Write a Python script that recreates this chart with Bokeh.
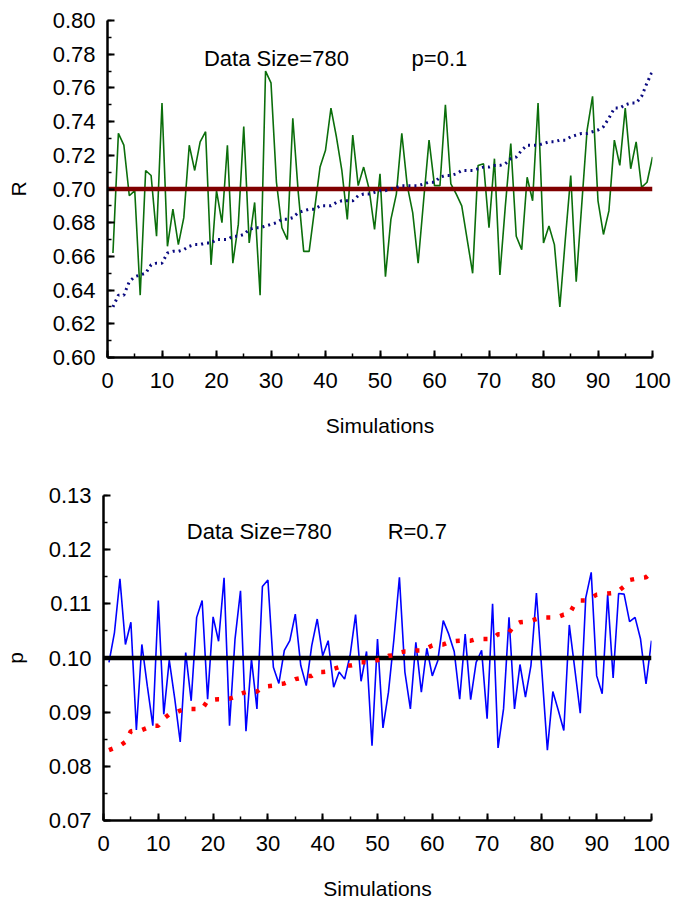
from bokeh.plotting import figure
from bokeh.layouts import column, row
from bokeh.models import Range1d, SingleIntervalTicker, NumeralTickFormatter
from bokeh.core.properties import value
from bokeh.embed import file_html
from bokeh.resources import INLINE

# ---- simulation results -------------------------------------------------
simulations = list(range(1, 101))

data_size = 780
r_true = 0.7
p_true = 0.1

# estimated R in each of the 100 simulations (p fixed at 0.1)
r_estimates = [
    0.662, 0.733, 0.726, 0.696, 0.699, 0.637, 0.711, 0.708, 0.672, 0.751,
    0.666, 0.688, 0.667, 0.683, 0.726, 0.711, 0.728, 0.734, 0.655, 0.699,
    0.680, 0.726, 0.656, 0.679, 0.737, 0.668, 0.692, 0.637, 0.770, 0.763,
    0.704, 0.677, 0.670, 0.742, 0.698, 0.663, 0.663, 0.688, 0.713, 0.723,
    0.748, 0.731, 0.711, 0.682, 0.732, 0.702, 0.713, 0.700, 0.676, 0.709,
    0.648, 0.682, 0.697, 0.733, 0.702, 0.686, 0.656, 0.693, 0.729, 0.702,
    0.702, 0.750, 0.703, 0.697, 0.690, 0.670, 0.650, 0.714, 0.715, 0.677,
    0.718, 0.649, 0.690, 0.727, 0.672, 0.664, 0.707, 0.693, 0.751, 0.668,
    0.678, 0.667, 0.630, 0.670, 0.708, 0.645, 0.690, 0.735, 0.755, 0.693,
    0.673, 0.687, 0.729, 0.714, 0.748, 0.712, 0.728, 0.701, 0.704, 0.719,
]

# estimated p in each of the 100 simulations (R fixed at 0.7)
p_estimates = [
    0.0992, 0.1047, 0.1146, 0.1025, 0.1066, 0.0867, 0.1025, 0.0948, 0.0875, 0.1106,
    0.0896, 0.0996, 0.0925, 0.0845, 0.1010, 0.0921, 0.1075, 0.1106, 0.0924, 0.1076,
    0.1031, 0.1148, 0.0875, 0.1035, 0.1124, 0.0865, 0.0998, 0.0906, 0.1132, 0.1144,
    0.0983, 0.0953, 0.1014, 0.1032, 0.1081, 0.0986, 0.0949, 0.1023, 0.1072, 0.1004,
    0.1032, 0.0946, 0.0974, 0.0961, 0.1005, 0.1080, 0.0957, 0.1012, 0.0838, 0.1035,
    0.0871, 0.0937, 0.1035, 0.1149, 0.0974, 0.0906, 0.1029, 0.0937, 0.1018, 0.0967,
    0.0995, 0.1069, 0.1044, 0.1012, 0.0924, 0.1044, 0.0923, 0.0992, 0.1014, 0.0888,
    0.1100, 0.0834, 0.0906, 0.1075, 0.0906, 0.0988, 0.0928, 0.0986, 0.1120, 0.0975,
    0.0830, 0.0938, 0.0903, 0.0866, 0.1061, 0.0980, 0.0898, 0.1111, 0.1158, 0.0967,
    0.0934, 0.1117, 0.0963, 0.1119, 0.1118, 0.1067, 0.1075, 0.1035, 0.0952, 0.1032,
]

# the same estimates in ascending order
r_sorted = sorted(r_estimates)
p_sorted = sorted(p_estimates)

FONT = "Liberation Sans"


def style_axes(p, ylabel, y_interval, y_label_standoff):
    p.xaxis.ticker = SingleIntervalTicker(interval=10, num_minor_ticks=2)
    p.yaxis.ticker = SingleIntervalTicker(interval=y_interval, num_minor_ticks=2)
    p.yaxis.formatter = NumeralTickFormatter(format="0.00")
    p.xaxis.axis_label = "Simulations"
    p.yaxis.axis_label = ylabel
    for ax in (p.xaxis[0], p.yaxis[0]):
        ax.axis_line_width = 2.5
        ax.axis_line_color = "black"
        ax.major_tick_in = 7
        ax.major_tick_out = 0
        ax.minor_tick_in = 4
        ax.minor_tick_out = 0
        ax.major_tick_line_width = 2
        ax.minor_tick_line_width = 1.5
        ax.major_tick_line_color = "black"
        ax.minor_tick_line_color = "black"
        ax.major_label_text_font = FONT
        ax.major_label_text_font_size = "22px"
        ax.major_label_text_color = "black"
        ax.axis_label_text_font = FONT
        ax.axis_label_text_font_size = "21px"
        ax.axis_label_text_font_style = "normal"
        ax.axis_label_text_color = "black"
    p.xaxis.major_label_standoff = 15
    p.xaxis.axis_label_standoff = 23
    p.yaxis.major_label_standoff = 12
    p.yaxis.axis_label_standoff = y_label_standoff
    p.xgrid.visible = False
    p.ygrid.visible = False
    p.outline_line_color = None


# ---- top panel: R estimates --------------------------------------------
p1 = figure(width=673, height=460, x_range=Range1d(0, 100), y_range=Range1d(0.6, 0.8),
            output_backend="svg", toolbar_location=None,
            min_border_left=107, min_border_right=21, min_border_top=20, min_border_bottom=103)
style_axes(p1, "R", 0.02, 20)

p1.line(simulations, r_estimates, line_color="#0b6e0b", line_width=1.6)
p1.line([0, 100], [r_true, r_true], line_color="#800000", line_width=4.5)
p1.line(simulations, r_sorted, line_color="#0a0a80", line_width=3, line_dash="2 4")
p1.text(x=[17.7], y=[0.7776], text=[f"Data Size={data_size}"], text_font=value(FONT),
        text_font_size="22px", text_baseline="alphabetic", text_color="black")
p1.text(x=[55.8], y=[0.7776], text=[f"p={p_true}"], text_font=value(FONT),
        text_font_size="22px", text_baseline="alphabetic", text_color="black")

# ---- bottom panel: p estimates -----------------------------------------
p2 = figure(width=673, height=442, x_range=Range1d(0, 100), y_range=Range1d(0.07, 0.13),
            output_backend="svg", toolbar_location=None,
            min_border_left=102, min_border_right=22, min_border_top=35, min_border_bottom=82)
style_axes(p2, "p", 0.01, 19)

p2.line(simulations, p_estimates, line_color="#0000ff", line_width=1.6)
p2.line([0, 100], [p_true, p_true], line_color="black", line_width=4.5)
p2.line(simulations, p_sorted, line_color="#ff0000", line_width=4.5, line_dash="4 10")
p2.text(x=[15.2], y=[0.1234], text=[f"Data Size={data_size}"], text_font=value(FONT),
        text_font_size="22px", text_baseline="alphabetic", text_color="black")
p2.text(x=[51.85], y=[0.1234], text=[f"R={r_true}"], text_font=value(FONT),
        text_font_size="22px", text_baseline="alphabetic", text_color="black")

# each panel keeps its own borders
layout = column(row(p1), row(p2), spacing=0)
open("out.html", "w").write(file_html(layout, INLINE))
